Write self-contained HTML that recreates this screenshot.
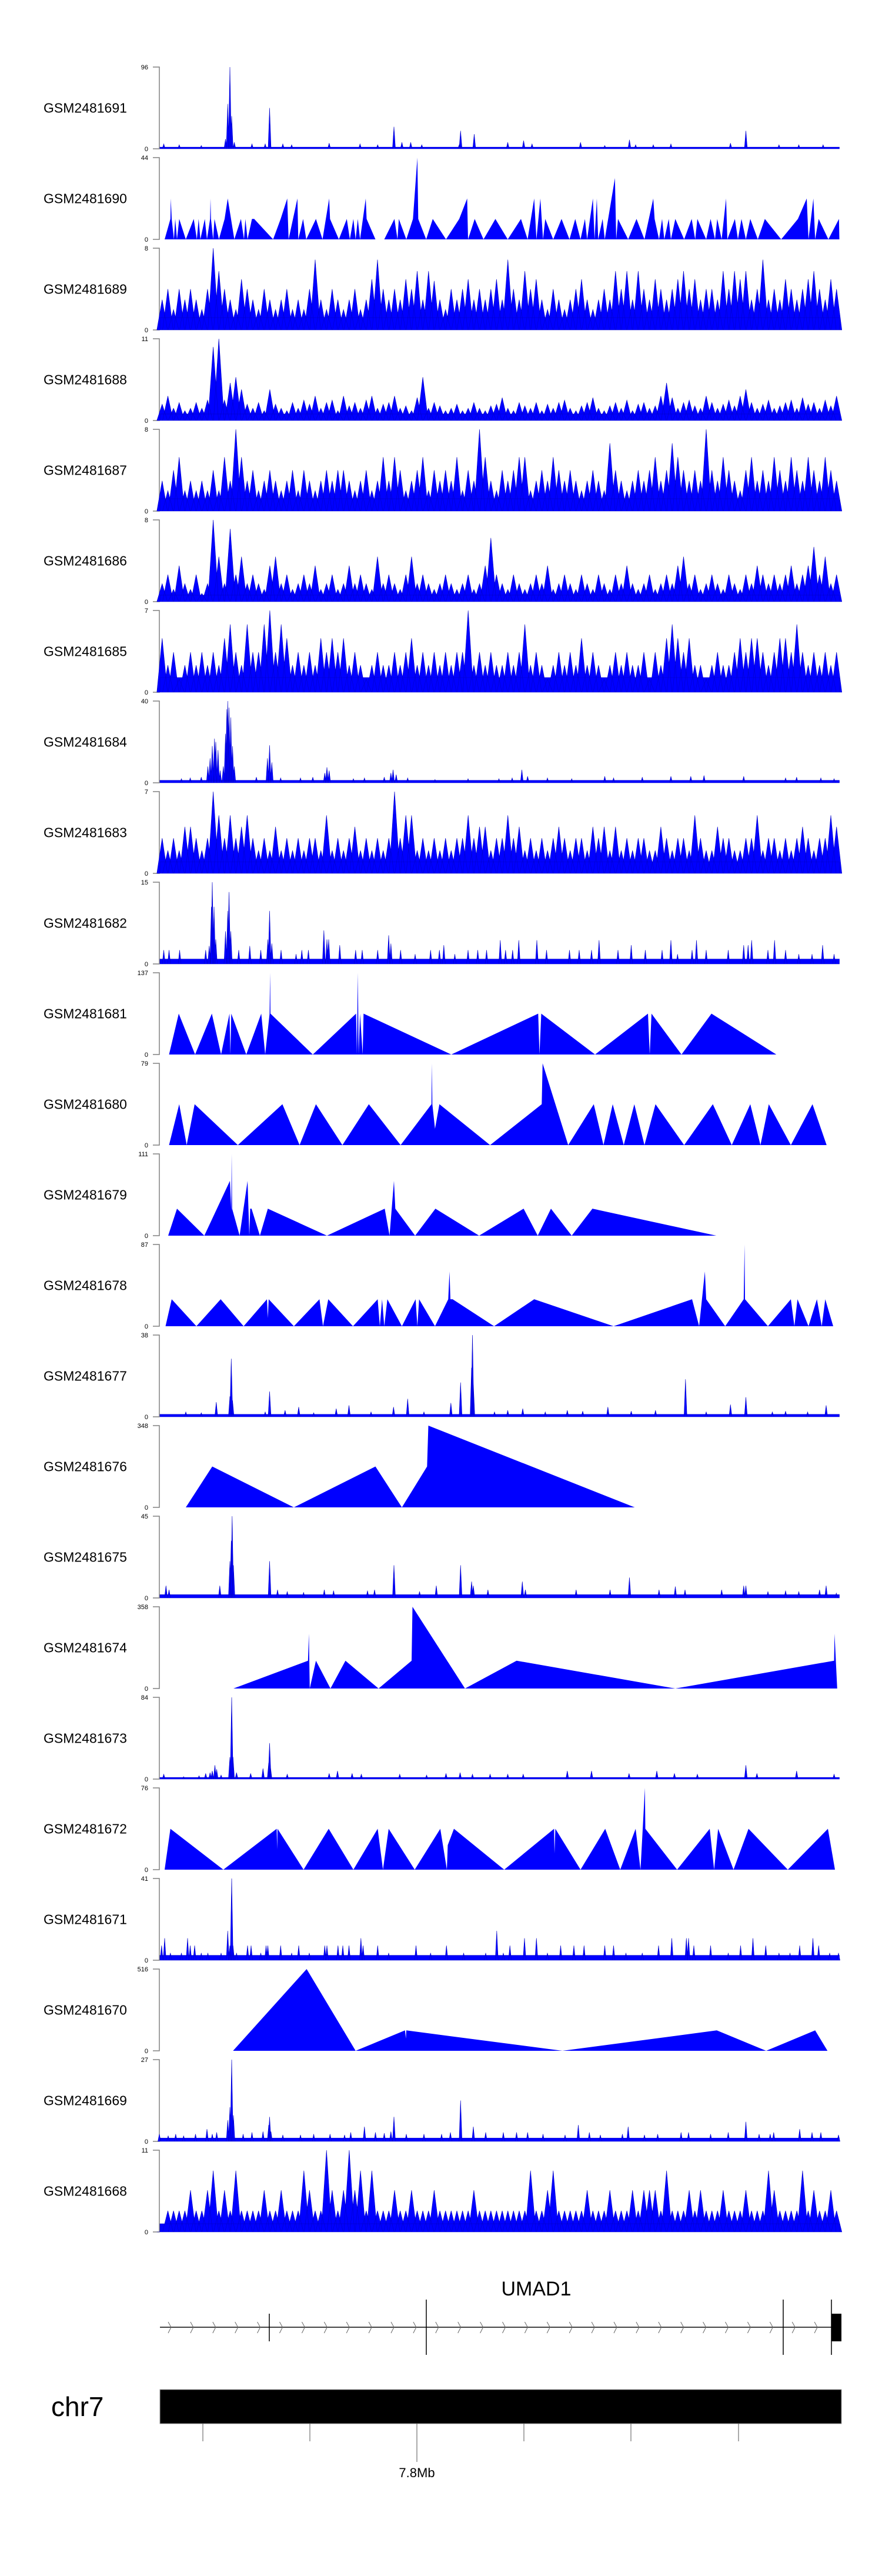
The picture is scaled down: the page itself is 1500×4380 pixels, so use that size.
<!DOCTYPE html>
<html><head><meta charset="utf-8">
<style>
html,body{margin:0;padding:0;background:#fff;}
svg{display:block;font-family:"Liberation Sans",Arial,sans-serif;}
</style></head>
<body>
<svg id="chart" width="1500" height="4380" viewBox="0 0 1500 4380" xmlns="http://www.w3.org/2000/svg"></svg>
<script>
// ---- data (positions 0..1542 genomic units, values in % of track max) ----
const trackNames = ["GSM2481691","GSM2481690","GSM2481689","GSM2481688","GSM2481687","GSM2481686","GSM2481685","GSM2481684","GSM2481683","GSM2481682","GSM2481681","GSM2481680","GSM2481679","GSM2481678","GSM2481677","GSM2481676","GSM2481675","GSM2481674","GSM2481673","GSM2481672","GSM2481671","GSM2481670","GSM2481669","GSM2481668"];
const trackMax = [96,44,8,11,8,8,7,40,7,15,137,79,111,87,38,348,45,358,84,76,41,516,27,11];
const trackType = ["spk","tri","bins","bins","bins","bins","bins","spk","bins","spk","tri","tri","tri","tri","spk","tri","spk","tri","spk","tri","spk","tri","spk","bins"];
const trackFloor = [2,0,15,8,15,8,18,3,14,6,0,0,0,0,3,0,4,0,2,0,6,0,4,10];

const s1691 = [[10,6],[45,5],[95,4],[150,12],[155,55],[160,100],[164,40],[170,8],[210,6],[240,6],[250,50],[280,6],[300,5],[385,7],[455,6],[495,5],[532,27],[550,8],[570,8],[595,5],[680,5],[683,22],[714,18],[790,8],[826,10],[845,6],[955,8],[1010,4],[1066,11],[1080,5],[1120,5],[1160,6],[1295,7],[1330,22],[1405,5],[1450,5],[1505,5]];
const t1690 = [[12,0],[25,25],[26,50],[28,25],[33,0],[36,25],[40,0],[45,25],[60,0],[78,25],[85,0],[89,25],[93,0],[103,25],[108,0],[115,25],[116,50],[117,25],[122,0],[125,25],[135,0],[148,25],[155,50],[170,0],[185,25],[192,0],[195,25],[200,0],[210,25],[215,25],[258,0],[275,25],[290,50],[293,0],[313,50],[315,0],[326,25],[333,0],[355,25],[370,0],[385,50],[387,25],[407,0],[425,25],[432,0],[440,25],[445,0],[450,25],[455,0],[468,50],[470,25],[490,0],[510,0],[533,25],[540,0],[543,25],[560,0],[575,25],[585,100],[587,25],[605,0],[620,25],[650,0],[680,25],[698,50],[700,0],[715,25],[735,0],[762,25],[790,0],[820,25],[835,0],[850,50],[855,0],[864,50],[870,0],[875,25],[893,0],[912,25],[930,0],[943,25],[955,0],[965,25],[970,0],[983,50],[987,0],[992,50],[995,0],[1005,25],[1010,0],[1033,75],[1036,0],[1040,25],[1063,0],[1082,25],[1100,0],[1120,50],[1123,25],[1133,0],[1140,25],[1145,0],[1155,25],[1160,0],[1170,25],[1190,0],[1207,25],[1215,0],[1220,25],[1240,0],[1250,25],[1260,0],[1265,25],[1275,0],[1285,50],[1288,0],[1305,25],[1312,0],[1320,25],[1330,0],[1340,25],[1357,0],[1373,25],[1410,0],[1448,25],[1468,50],[1472,0],[1483,50],[1487,0],[1495,25],[1517,0],[1541,25],[1542,0]];
const b1689 = [37,50,25,50,37,50,37,25,50,100, 72,50,37,25,62,50,37,25,50,37, 25,37,50,25,37,25,50,86,37,25, 50,37,25,37,50,25,37,62,86,50, 37,50,37,62,50,72,37,72,60,37, 25,50,37,50,62,37,50,37,50,62, 37,86,50,37,72,50,62,37,25,50, 37,25,37,50,62,37,25,37,50,37, 72,50,72,37,72,50,37,62,50,37, 50,62,72,50,62,37,50,50,37,72, 50,72,62,72,37,50,86,37,50,37, 62,50,37,50,62,72,50,37,62,50];
const b1688 = [20,30,15,22,12,15,22,15,25,90, 100,25,46,53,38,20,15,22,12,38, 20,15,12,22,15,25,20,30,15,22, 25,12,30,18,22,15,25,30,15,20, 22,30,15,18,12,28,53,15,22,18, 12,15,20,12,15,22,15,12,18,20, 28,15,12,22,18,15,22,12,20,15, 22,25,15,12,18,22,28,15,12,18, 22,15,25,12,20,22,15,18,30,46, 28,15,22,25,18,15,30,22,15,20, 25,18,30,38,22,15,20,25,15,18, 22,25,15,28,20,22,15,25,18,30];
const b1687 = [37,25,50,66,25,37,25,37,25,50, 25,66,37,100,66,37,50,25,37,50, 37,25,37,50,25,50,37,25,37,50, 37,50,50,37,25,37,50,25,37,66, 37,66,50,25,37,50,66,25,50,37, 50,37,66,25,50,37,100,66,37,25, 50,37,50,66,66,25,37,50,37,66, 50,37,50,37,25,37,50,37,25,83, 50,37,25,37,50,37,50,66,37,50, 83,66,50,37,50,37,100,50,37,66, 50,37,25,50,66,37,50,37,66,50, 37,66,50,37,66,50,37,66,50,37];
const b1686 = [22,33,15,44,22,15,33,10,22,100, 55,22,89,33,55,22,33,22,15,44, 55,22,33,15,22,33,22,44,15,22, 33,15,22,44,22,33,22,15,55,22, 33,22,15,33,55,22,33,22,15,22, 33,22,15,22,33,15,22,44,78,33, 22,15,33,22,15,22,33,22,44,15, 22,33,22,15,33,22,15,33,22,15, 33,22,44,22,15,22,33,15,22,33, 22,44,55,22,33,15,22,33,22,15, 33,22,15,33,22,44,33,22,33,22, 33,44,22,33,44,67,33,55,22,33];
const b1685 = [66,33,49,16,33,49,33,49,33,49, 33,66,83,49,33,83,49,49,83,100, 49,83,66,33,49,33,49,33,66,49, 66,49,66,33,49,33,16,33,49,33, 33,49,33,49,66,33,49,33,49,33, 49,33,49,49,100,33,49,33,49,33, 33,49,33,49,83,33,49,33,16,33, 49,33,49,33,66,33,49,33,16,33, 49,33,49,33,33,49,16,49,33,66, 83,66,49,66,33,33,16,33,49,33, 33,49,66,49,66,66,49,33,49,66, 66,49,83,49,33,49,33,49,33,49];
const s1684 = [[50,5],[70,6],[95,7],[110,20],[115,30],[120,45],[125,54],[128,50],[133,40],[138,15],[145,20],[150,60],[153,90],[155,100],[158,92],[162,80],[166,45],[170,20],[220,7],[245,30],[250,46],[255,25],[275,6],[320,6],[348,7],[375,12],[380,19],[385,15],[440,5],[465,6],[510,7],[525,12],[530,16],[537,10],[563,6],[625,4],[700,5],[770,5],[800,6],[822,16],[835,8],[880,6],[935,5],[1010,8],[1030,6],[1095,7],[1160,8],[1205,8],[1235,9],[1325,8],[1420,6],[1445,7],[1500,6],[1530,5]];
const b1683 = [43,28,43,28,57,57,43,28,43,100, 71,43,71,43,57,71,43,28,43,28, 57,28,43,28,43,28,43,43,28,71, 28,43,28,43,57,28,43,28,43,28, 43,100,43,71,71,28,43,28,43,28, 43,28,43,43,71,43,57,57,28,43, 43,71,43,57,28,43,28,43,28,43, 57,43,28,43,43,28,57,43,57,28, 57,28,43,28,43,43,28,28,57,43, 28,43,43,28,71,43,28,28,57,43, 43,28,28,43,43,71,28,43,43,28, 43,28,43,57,43,28,43,43,71,57];
const s1682 = [[10,17],[22,17],[46,17],[105,17],[113,22],[118,70],[120,100],[124,70],[128,30],[150,40],[155,65],[158,88],[162,40],[180,17],[205,22],[230,17],[246,30],[250,65],[255,25],[276,17],[310,12],[323,17],[338,17],[373,41],[380,30],[384,30],[409,23],[445,17],[460,17],[495,17],[520,35],[525,25],[547,17],[580,12],[615,17],[635,17],[645,23],[670,12],[700,17],[722,17],[742,17],[773,29],[785,17],[801,17],[815,29],[856,29],[878,17],[930,17],[952,17],[980,17],[997,29],[1040,17],[1070,23],[1102,17],[1140,17],[1160,29],[1175,12],[1208,17],[1218,29],[1240,17],[1290,17],[1325,23],[1335,23],[1343,29],[1380,17],[1395,29],[1420,17],[1450,12],[1480,12],[1504,23],[1530,12]];
const t1681 = [[22,0],[44,50],[81,0],[119,50],[140,0],[159,50],[161,0],[163,50],[197,0],[231,50],[240,0],[250,50],[251,100],[252,50],[348,0],[446,50],[448,0],[450,100],[452,0],[455,50],[461,0],[463,50],[662,0],[859,50],[862,0],[866,50],[988,0],[1108,50],[1112,0],[1116,50],[1184,0],[1252,50],[1399,0]];
const t1680 = [[22,0],[45,50],[62,0],[80,50],[178,0],[279,50],[318,0],[355,50],[415,0],[475,50],[547,0],[617,50],[618,100],[619,50],[625,20],[635,50],[750,0],[867,50],[869,100],[927,0],[985,50],[1007,0],[1028,50],[1053,0],[1077,50],[1100,0],[1125,50],[1190,0],[1255,50],[1298,0],[1340,50],[1363,0],[1382,50],[1432,0],[1481,50],[1513,0]];
const t1679 = [[20,0],[40,33],[102,0],[160,67],[163,30],[164,100],[165,33],[182,0],[200,67],[204,0],[206,33],[209,33],[228,0],[246,33],[380,0],[511,33],[522,0],[532,67],[535,33],[580,0],[626,33],[725,0],[826,33],[858,0],[888,33],[935,0],[982,33],[1263,0]];
const t1678 = [[14,0],[28,33],[84,0],[139,33],[191,0],[244,33],[246,10],[248,33],[305,0],[363,33],[371,0],[383,33],[439,0],[495,33],[500,0],[505,33],[510,0],[517,33],[550,0],[581,33],[585,0],[589,33],[625,0],[655,33],[658,67],[660,33],[665,33],[759,0],[850,33],[1030,0],[1208,33],[1224,0],[1237,67],[1240,33],[1283,0],[1325,33],[1327,100],[1328,33],[1380,0],[1432,33],[1440,0],[1447,33],[1472,0],[1491,33],[1502,0],[1510,33],[1528,0]];
const s1677 = [[60,6],[95,5],[129,18],[160,25],[163,71],[166,20],[240,6],[250,31],[285,8],[316,12],[350,5],[401,10],[430,14],[480,6],[531,12],[563,22],[600,6],[661,17],[683,42],[708,60],[710,100],[712,40],[760,6],[790,8],[824,10],[875,6],[925,8],[960,7],[1017,12],[1070,7],[1125,8],[1193,46],[1240,6],[1295,15],[1330,24],[1390,6],[1420,7],[1470,6],[1512,14]];
const t1676 = [[60,0],[120,50],[305,0],[490,50],[550,0],[607,50],[610,100],[1078,0]];
const s1675 = [[15,15],[22,10],[137,15],[160,45],[163,70],[165,100],[168,40],[250,45],[268,10],[290,8],[327,7],[374,10],[395,9],[472,9],[488,10],[532,40],[590,8],[628,15],[683,40],[708,20],[712,15],[745,10],[823,20],[830,10],[945,10],[1022,10],[1066,25],[1133,10],[1170,14],[1192,10],[1275,10],[1325,15],[1330,15],[1380,8],[1420,9],[1450,8],[1497,10],[1512,15],[1535,6]];
const t1674 = [[168,0],[337,34],[339,67],[341,0],[355,34],[388,0],[422,34],[497,0],[572,34],[574,100],[693,0],[810,34],[1170,0],[1530,34],[1531,67],[1537,0]];
const s1673 = [[10,6],[55,3],[90,4],[105,7],[115,8],[120,10],[126,17],[130,12],[140,5],[160,27],[164,100],[167,27],[175,8],[207,7],[235,13],[248,20],[250,44],[252,15],[290,6],[385,7],[404,10],[437,7],[458,6],[545,6],[606,5],[650,7],[682,8],[710,6],[750,6],[790,6],[825,6],[925,10],[980,10],[1065,7],[1128,10],[1168,7],[1220,6],[1330,17],[1355,7],[1445,10],[1530,6]];
const t1672 = [[12,0],[25,50],[145,0],[266,50],[267,25],[268,50],[327,0],[384,50],[440,0],[495,50],[507,0],[520,50],[579,0],[637,50],[652,0],[654,30],[668,50],[782,0],[895,50],[896,20],[898,50],[955,0],[1011,50],[1045,0],[1080,50],[1091,0],[1101,100],[1102,50],[1174,0],[1248,50],[1258,0],[1267,50],[1302,0],[1336,50],[1425,0],[1516,50],[1532,0]];
const s1671 = [[5,18],[12,27],[25,9],[50,9],[64,27],[70,18],[80,18],[95,9],[110,9],[140,9],[155,36],[160,18],[164,100],[167,18],[175,9],[200,18],[208,18],[230,9],[242,18],[246,18],[275,18],[300,9],[316,18],[340,9],[375,18],[380,18],[405,18],[416,18],[430,18],[457,27],[462,18],[495,18],[520,9],[582,18],[615,9],[651,18],[690,9],[740,9],[765,36],[780,9],[795,18],[828,27],[855,27],[880,9],[910,18],[940,18],[963,18],[1010,18],[1030,18],[1058,9],[1095,9],[1132,18],[1162,27],[1195,27],[1200,27],[1212,18],[1250,18],[1290,9],[1318,18],[1346,27],[1375,18],[1405,9],[1430,9],[1452,18],[1482,27],[1495,18],[1520,9],[1540,9]];
const t1670 = [[167,0],[334,100],[445,0],[557,25],[559,15],[560,25],[914,0],[1264,25],[1376,0],[1487,25],[1515,0]];
const s1669 = [[0,9],[20,7],[37,9],[55,7],[82,9],[108,15],[120,9],[130,11],[155,26],[160,42],[164,100],[168,32],[190,9],[210,11],[235,12],[248,20],[250,30],[253,12],[280,8],[320,8],[350,9],[387,9],[420,8],[434,11],[465,18],[490,11],[510,10],[525,12],[532,30],[560,9],[600,9],[640,9],[660,11],[683,50],[712,18],[740,11],[780,11],[810,11],[835,11],[870,9],[920,8],[950,20],[975,11],[1000,8],[1050,9],[1063,18],[1100,8],[1130,9],[1183,11],[1200,11],[1250,9],[1290,11],[1330,24],[1360,9],[1385,9],[1393,11],[1452,15],[1480,11],[1500,11],[1540,8]];
const b1668 = [0,26,26,26,26,51,26,26,51,75, 26,51,26,75,26,26,26,26,51,26, 26,51,26,26,26,75,51,26,26,100, 51,26,51,100,51,75,26,75,26,26, 26,51,26,26,51,26,26,26,51,26, 26,26,26,26,26,51,26,26,26,26, 26,26,26,26,26,75,26,26,51,75, 26,26,26,26,26,51,26,26,26,51, 26,26,26,51,26,51,51,51,26,75, 26,26,26,51,26,51,26,26,26,51, 26,26,26,51,26,26,26,75,51,26, 26,26,26,75,26,51,26,26,51,26];

const trackData = [s1691,t1690,b1689,b1688,b1687,b1686,b1685,s1684,b1683,s1682,t1681,t1680,t1679,t1678,s1677,t1676,s1675,t1674,s1673,t1672,s1671,t1670,s1669,b1668];

const chevronCount = 30;
const exonPos = [458,725,1332,1414];
const axisTicks = [345,527,709,891,1073,1256];
const axisTickLabel = "7.8Mb";

// ---- layout ----
const svg = document.getElementById('chart');
const NS = 'http://www.w3.org/2000/svg';
const X0 = 271, X1 = 1427.5, DOMAIN = 1542;
const TOP0 = 114, PITCH = 154, H = 139;
function xScale(p){ return X0 + p/DOMAIN*(X1-X0); }
function yScale(pct, yB){ return yB - pct/100*H; }
function mk(tag, attrs, parent){
  const e = document.createElementNS(NS, tag);
  for (const k in attrs) e.setAttribute(k, attrs[k]);
  (parent||svg).appendChild(e);
  return e;
}

trackNames.forEach((name, i) => {
  const yT = TOP0 + i*PITCH, yB = yT + H;
  const g = mk('g', {});
  
  

  const lbl = mk('text', {x:74, y:yT+H/2+8, 'font-size':23, fill:'#000'}, g);
  
  
  lbl.textContent = name;

  const ax = mk('path', {d:`M260,${yT} H${X0} V${yB} H260`, fill:'none', stroke:'#808080', 'stroke-width':1.5}, g);
  
  

  const tmax = mk('text', {x:252, y:yT+4, 'font-size':11, 'text-anchor':'end', fill:'#000'}, g);
  
  
  tmax.textContent = trackMax[i];
  const t0 = mk('text', {x:252, y:yB+4, 'font-size':11, 'text-anchor':'end', fill:'#000'}, g);
  
  
  t0.textContent = '0';

  const type = trackType[i], data = trackData[i], floor = trackFloor[i];
  let d = '';
  if (type === 'tri') {
    d = `M${xScale(data[0][0]).toFixed(1)},${yB}`;
    data.forEach(pt => { d += ` L${xScale(pt[0]).toFixed(1)},${yScale(pt[1], yB).toFixed(1)}`; });
    d += ` L${xScale(data[data.length-1][0]).toFixed(1)},${yB} Z`;
  } else {
    if (floor > 0) d += `M${X0+1},${yB} L${X0+1},${yScale(floor,yB).toFixed(1)} L${X1},${yScale(floor,yB).toFixed(1)} L${X1},${yB} Z `;
    let pts, w;
    if (type === 'bins') { pts = data.map((v,k) => [(k+0.5)*DOMAIN/data.length, v]); w = 9; }
    else { pts = data; w = 2.5; }
    pts.forEach(pt => {
      const x = xScale(pt[0]);
      d += `M${(x-w).toFixed(1)},${yB} L${x.toFixed(1)},${yScale(pt[1],yB).toFixed(1)} L${(x+w).toFixed(1)},${yB} Z `;
    });
  }
  const area = mk('path', {d:d, fill:'#0000ff', stroke:(type==='tri'?'none':'#0000c8'), 'stroke-width':0.6}, g);
  
  
});

// ---- gene model ----
const gg = mk('g', {});


const gl = mk('text', {x:912, y:3903, 'font-size':34, 'text-anchor':'middle', fill:'#000'}, gg);


gl.textContent = 'UMAD1';
const gline = mk('line', {x1:272, y1:3957, x2:1414, y2:3957, stroke:'#444', 'stroke-width':2}, gg);


for (let k=0;k<chevronCount;k++){
  const cx = 286 + k*37.9;
  if (cx > 1405) break;
  const c = mk('path', {d:`M${cx},3948 L${cx+5},3957 L${cx},3967`, fill:'none', stroke:'#666', 'stroke-width':1}, gg);
  
  
}
exonPos.forEach((ex,k) => {
  const tall = k>0;
  const e = mk('line', {x1:ex, y1:tall?3910:3934, x2:ex, y2:tall?4004:3981, stroke:'#000', 'stroke-width':1.5}, gg);
  
  
});
const ebox = mk('rect', {x:1414, y:3934, width:17, height:47, fill:'#000'}, gg);



// ---- ideogram / axis ----
const ig = mk('g', {});


const chrL = mk('text', {x:87, y:4108, 'font-size':46, fill:'#000'}, ig);


chrL.textContent = 'chr7';
const bar = mk('rect', {x:272, y:4063, width:1159, height:58, fill:'#000', stroke:'#999', 'stroke-width':1}, ig);


axisTicks.forEach((tx,k) => {
  const t = mk('line', {x1:tx, y1:4121, x2:tx, y2:(k===2?4186:4151), stroke:'#555', 'stroke-width':1}, ig);
  
  
});
const tl = mk('text', {x:axisTicks[2], y:4212, 'font-size':22, 'text-anchor':'middle', fill:'#000'}, ig);


tl.textContent = axisTickLabel;
</script>
</body></html>
